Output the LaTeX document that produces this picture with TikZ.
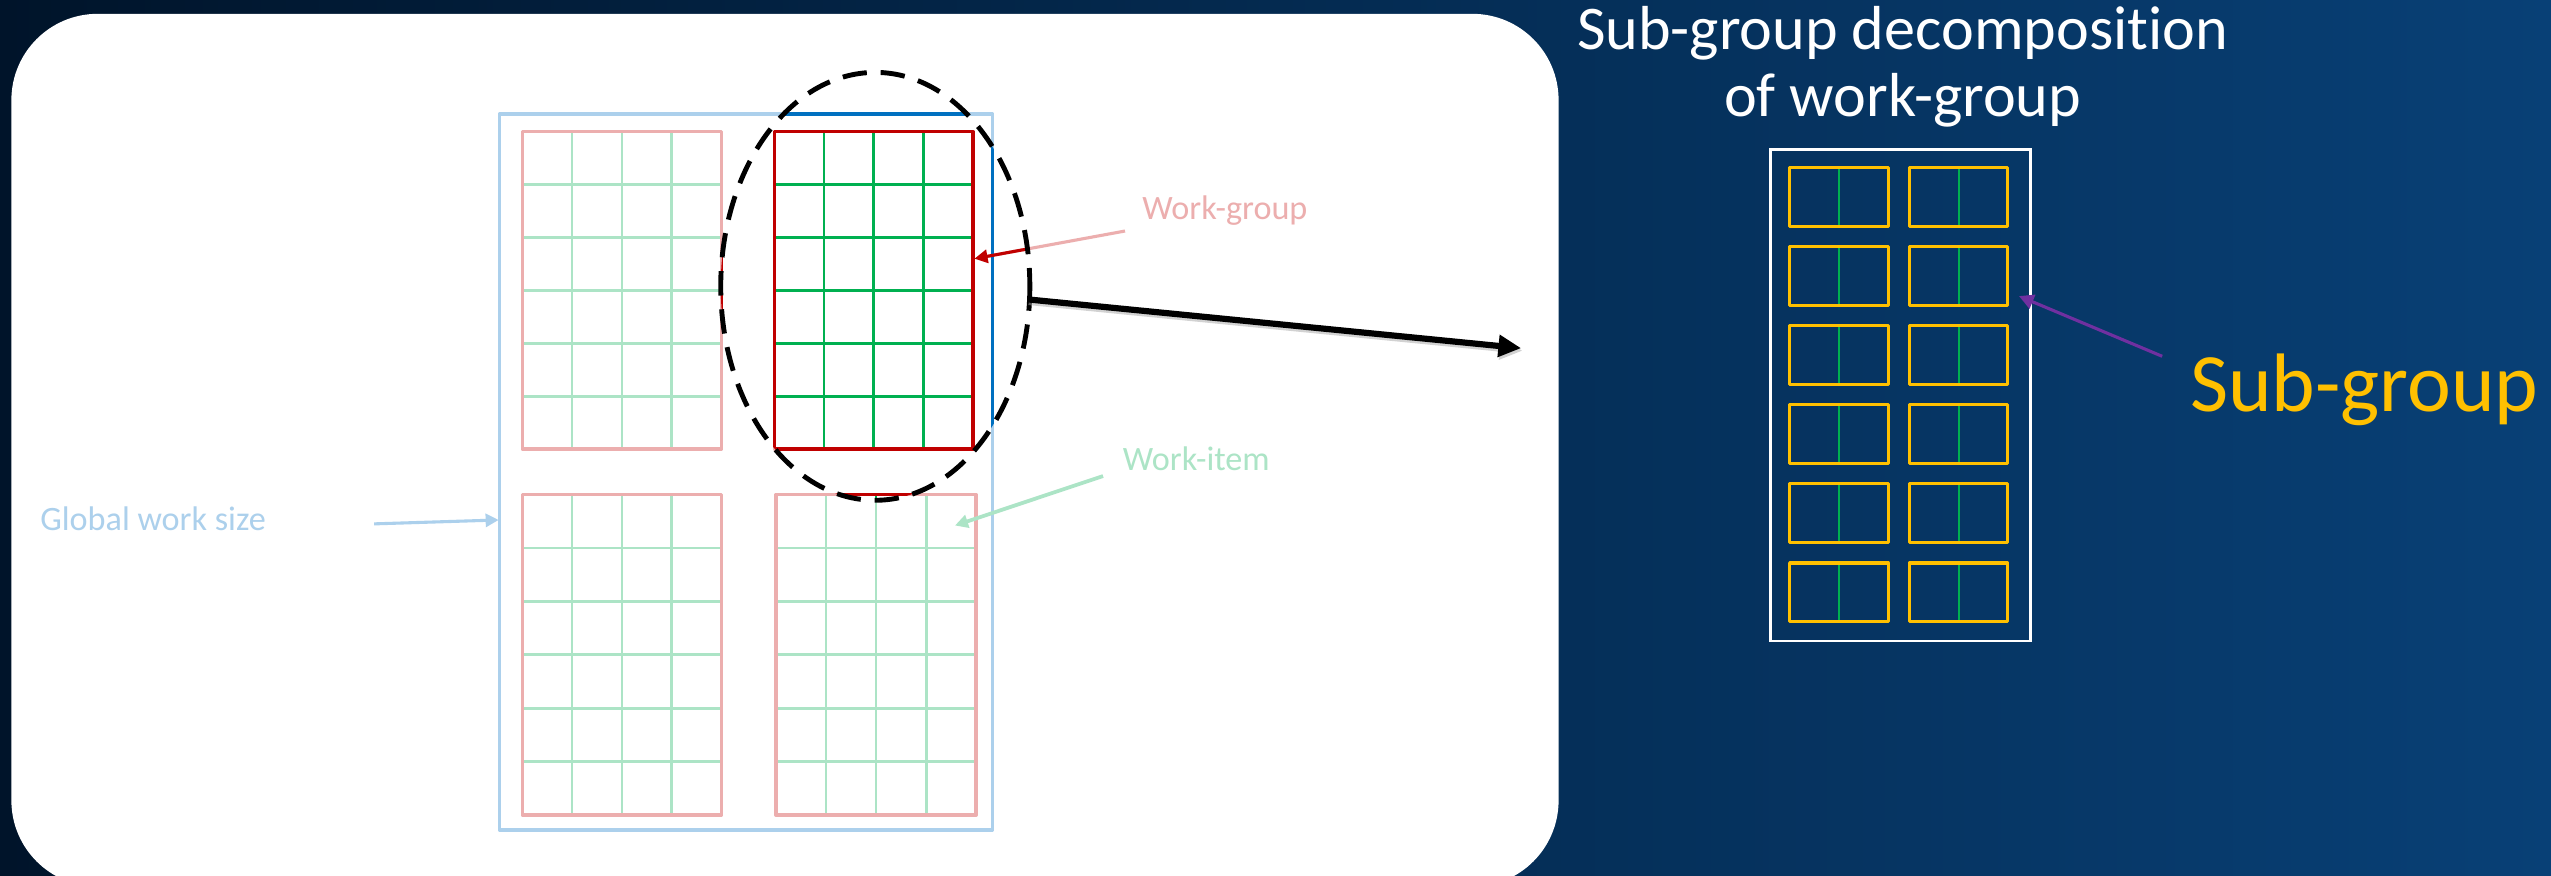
\documentclass[tikz,border=0pt]{standalone}
\usepackage{fontspec}
\setmainfont{Carlito}[Ligatures=NoCommon]
\usetikzlibrary{arrows.meta}
\definecolor{bgl}{RGB}{0,20,42}
\definecolor{bgr}{RGB}{8,64,118}
\definecolor{redpale}{RGB}{236,174,174}
\definecolor{bluepale}{RGB}{172,208,236}
\definecolor{greenpale}{RGB}{172,228,198}
\definecolor{redsat}{RGB}{192,0,0}
\definecolor{bluesat}{RGB}{0,112,192}
\definecolor{greensat}{RGB}{0,176,80}
\definecolor{subyellow}{RGB}{255,192,0}
\definecolor{subpurple}{RGB}{112,48,160}
\newcommand{\wgrid}[6]{%
  \foreach \i in {1,2,3} \draw[#6, gridline] ({#1+(#3-#1)*\i/4},{#2}) -- ({#1+(#3-#1)*\i/4},{#4});
  \foreach \j in {1,...,5} \draw[#6, gridline] ({#1},{#2+(#4-#2)*\j/6}) -- ({#3},{#2+(#4-#2)*\j/6});
  \draw[#5, wgborder] (#1,#2) rectangle (#3,#4);
}
\newcommand{\allgrids}[4]{% outer, border, grid, arrow
  \draw[#1, outerbox] (307,70) rectangle (610,510);
  \wgrid{321}{81}{443.5}{276}{#2}{#3}
  \wgrid{476}{81}{598}{276}{#2}{#3}
  \wgrid{321}{304}{443.5}{501}{#2}{#3}
  \wgrid{477}{304}{600}{501}{#2}{#3}
  \draw[#4, thinarrow] (wgtail) -- (wgtip);
}
\tikzset{
  gridline/.style={line width=1.7},
  wgborder/.style={line width=2.1, line join=round},
  outerbox/.style={line width=2.2, line join=round},
  thinarrow/.style={line width=1.9, -{Triangle[length=8,width=8]}},
  lbl/.style={inner sep=0, anchor=base west, font=\fontsize{21}{25}\selectfont},
  subbox/.style={draw=subyellow, line width=2, line join=round},
}
\begin{document}
\begin{tikzpicture}[x=1pt,y=-1pt]
\useasboundingbox (0,0) rectangle (1568,538);
\shade[left color=bgl, right color=bgr] (0,0) rectangle (1568,538);
\fill[white, rounded corners=53] (7,8.5) rectangle (958,545);

% connector end points
\coordinate (wgtail) at (691.5,142);
\coordinate (wgtip) at (599,159);
\coordinate (witail) at (678,292.6);
\coordinate (witip) at (587,323);
\coordinate (gwtail) at (230,322);
\coordinate (gwtip) at (306.5,319.6);
\coordinate (ellE) at (631.5,184);
\coordinate (zoomtip) at (935,214);
\coordinate (sgtail) at (1329,219);
\coordinate (sgtip) at (1241,182);

% pale pass
\allgrids{bluepale}{redpale}{greenpale}{redpale}
\draw[bluepale, thinarrow] (gwtail) -- (gwtip);
\draw[greenpale, thinarrow, line width=2.3] (witail) -- (witip);

% highlighted pass inside the ellipse
\begin{scope}
  \clip (538,176) ellipse [x radius=95, y radius=131.5];
  \allgrids{bluesat}{redsat}{greensat}{redsat}
\end{scope}
\draw[black, line width=3, dash pattern=on 15 off 8.5] (538,176) ellipse [x radius=95, y radius=131.5];

% zoom arrow with faint shadow
\draw[black!35, opacity=0.5, line width=3.8, -{Triangle[length=14,width=13]}] ([shift={(0.8,1.6)}]ellE) -- ([shift={(0.8,1.6)}]zoomtip);
\draw[black, line width=3.8, -{Triangle[length=14,width=13]}] (ellE) -- (zoomtip);

% labels
\node[lbl, text=redpale] (wg) at (702,135) {Work-group};
\node[lbl, text=greenpale] (wi) at (690,289) {Work-item};
\node[lbl, text=bluepale] (gws) at (24.6,325.8) {Global work size};

% right panel
\node[inner sep=0, anchor=base, text=white, font=\fontsize{38.2}{44}\selectfont] (title1) at (1169.5,30.7) {Sub-group decomposition};
\node[inner sep=0, anchor=base, text=white, font=\fontsize{38.2}{44}\selectfont] (title2) at (1169.5,71.7) {of work-group};
\draw[white, line width=1.8] (1088,92) rectangle (1248,394);
\foreach \k in {0,...,5} {
  \draw[greensat, line width=1.2] (1130.5,{103+48.6*\k}) -- (1130.5,{139+48.6*\k});
  \draw[greensat, line width=1.2] (1204,{103+48.6*\k}) -- (1204,{139+48.6*\k});
  \draw[subbox] (1100,{103+48.6*\k}) rectangle (1160.6,{139+48.6*\k});
  \draw[subbox] (1173.7,{103+48.6*\k}) rectangle (1234,{139+48.6*\k});
}
\draw[subpurple, line width=1.9, -{Triangle[length=9,width=9]}] (sgtail) -- (sgtip);
\node[inner sep=0, anchor=base west, text=subyellow, font=\fontsize{51}{58}\selectfont] (sg) at (1346,253) {Sub-group};
\end{tikzpicture}
\end{document}
